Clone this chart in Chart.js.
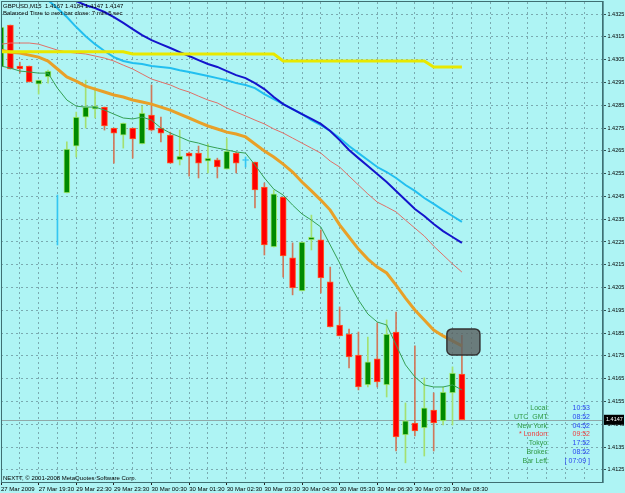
<!DOCTYPE html>
<html>
<head>
<meta charset="utf-8">
<script src="https://cdn.jsdelivr.net/npm/chart.js@4.4.1/dist/chart.umd.min.js"></script>
<style>
html, body { margin: 0; padding: 0; background: #aef4f4; }
canvas { display: block; }
</style>
</head>
<body>
<canvas id="chart" width="625" height="493"></canvas>
<script>
// GBPUSD M15 bars (27-30 Mar 2009), one entry per bar
const opens  = [1.43018, 1.43202, 1.43022, 1.43022, 1.42943, 1.42974, 1.42237, 1.42465, 1.42671, 1.42798,
                1.42833, 1.42842, 1.42750, 1.42719, 1.42750, 1.42680, 1.42807, 1.42750, 1.42719, 1.42610,
                1.42640, 1.42640, 1.42605, 1.42610, 1.42570, 1.42640, 1.42612, 1.42601, 1.42491, 1.42228,
                1.42447, 1.42180, 1.42035, 1.42259, 1.42259, 1.42075, 1.41886, 1.41846, 1.41754, 1.41623,
                1.41737, 1.41623, 1.41855, 1.41404, 1.41456, 1.41434, 1.41513, 1.41465, 1.41588, 1.4167];
const highs  = [1.43193, 1.43202, 1.43039, 1.43022, 1.42960, 1.43004, 1.42456, 1.42689, 1.42820, 1.42960,
                1.42930, 1.42842, 1.42750, 1.42772, 1.42750, 1.42846, 1.42939, 1.42798, 1.42732, 1.42741,
                1.42645, 1.42671, 1.42680, 1.42618, 1.42706, 1.42645, 1.42623, 1.42601, 1.42509, 1.42478,
                1.42447, 1.42246, 1.42250, 1.42368, 1.42303, 1.42140, 1.41965, 1.41868, 1.41855, 1.41833,
                1.41895, 1.41908, 1.41943, 1.41544, 1.41794, 1.41654, 1.41588, 1.41614, 1.41702, 1.4184];
const lows   = [1.43018, 1.43009, 1.42991, 1.42952, 1.42899, 1.42947, 1.42237, 1.42465, 1.42623, 1.42750,
                1.42794, 1.42741, 1.42596, 1.42662, 1.42618, 1.42680, 1.42737, 1.42689, 1.42596, 1.42588,
                1.42539, 1.42531, 1.42553, 1.42531, 1.42570, 1.42553, 1.42579, 1.42399, 1.42193, 1.42228,
                1.42096, 1.42018, 1.42035, 1.42215, 1.42026, 1.41877, 1.41838, 1.41697, 1.41601, 1.41614,
                1.41614, 1.41570, 1.41333, 1.41281, 1.41399, 1.41311, 1.41333, 1.41447, 1.41447, 1.4147];
const closes = [1.43193, 1.43009, 1.43009, 1.42952, 1.42960, 1.43000, 1.42237, 1.42658, 1.42798, 1.42842,
                1.42846, 1.42759, 1.42728, 1.42772, 1.42702, 1.42816, 1.42741, 1.42728, 1.42596, 1.42627,
                1.42627, 1.42596, 1.42618, 1.42579, 1.42649, 1.42596, 1.42608, 1.42478, 1.42237, 1.42461,
                1.42189, 1.42048, 1.42250, 1.42272, 1.42092, 1.41877, 1.41838, 1.41746, 1.41614, 1.41724,
                1.41636, 1.41846, 1.41395, 1.41465, 1.41421, 1.41522, 1.41456, 1.41592, 1.41675, 1.4147];

// indicator lines
const maDarkBlue = [null, null, null, null, null, null, 1.43342, 1.43324, 1.43307, 1.43289,
                    1.43276, 1.43259, 1.43237, 1.43211, 1.43184, 1.43158, 1.43136, 1.43118, 1.43101, 1.43083,
                    1.43066, 1.43048, 1.43031, 1.43018, 1.43000, 1.42982, 1.42969, 1.42947, 1.42921, 1.42886,
                    1.42855, 1.42833, 1.42811, 1.42790, 1.42768, 1.42737, 1.42697, 1.42654, 1.42618, 1.42583,
                    1.42548, 1.42513, 1.42474, 1.42434, 1.42395, 1.42364, 1.42329, 1.42298, 1.42272, 1.42246];
const maLightBlue = [null, null, null, null, 1.43351, 1.43311, 1.43276, 1.43237, 1.43193, 1.43153,
                     1.43118, 1.43088, 1.43061, 1.43044, 1.43035, 1.43031, 1.43022, 1.43018, 1.43013, 1.43004,
                     1.42996, 1.42987, 1.42978, 1.42969, 1.42960, 1.42947, 1.42939, 1.42925, 1.42899, 1.42877,
                     1.42855, 1.42833, 1.42811, 1.42785, 1.42763, 1.42737, 1.42706, 1.42671, 1.42640, 1.42610,
                     1.42579, 1.42557, 1.42531, 1.42500, 1.42474, 1.42443, 1.42417, 1.42390, 1.42364, 1.42338];
const maSalmon = [1.43118, 1.43123, 1.43123, 1.43123, 1.43118, 1.43105, 1.43092, 1.43083, 1.43079, 1.43075,
                  1.43066, 1.43057, 1.43044, 1.43026, 1.43009, 1.42987, 1.42965, 1.42952, 1.42939, 1.42921,
                  1.42908, 1.42890, 1.42873, 1.42860, 1.42838, 1.42820, 1.42803, 1.42785, 1.42768, 1.42746,
                  1.42728, 1.42706, 1.42684, 1.42662, 1.42640, 1.42605, 1.42579, 1.42539, 1.42500, 1.42461,
                  1.42425, 1.42404, 1.42382, 1.42346, 1.42311, 1.42276, 1.42232, 1.42193, 1.42154, 1.42118];
const maOrange = [1.43092, 1.43083, 1.43079, 1.43070, 1.43061, 1.43044, 1.43009, 1.42974, 1.42956, 1.42934,
                  1.42921, 1.42908, 1.42895, 1.42886, 1.42873, 1.42864, 1.42855, 1.42842, 1.42829, 1.42811,
                  1.42794, 1.42776, 1.42759, 1.42746, 1.42732, 1.42724, 1.42711, 1.42680, 1.42649, 1.42623,
                  1.42592, 1.42557, 1.42513, 1.42474, 1.42434, 1.42390, 1.42325, 1.42272, 1.42219, 1.42175,
                  1.42140, 1.42114, 1.42061, 1.42004, 1.41952, 1.41908, 1.41864, 1.41838, 1.41816, 1.41794];
const maGreen = [1.43022, 1.43013, 1.43000, 1.42996, 1.42991, 1.42991, 1.42925, 1.42873, 1.42846, 1.42842,
                 1.42842, 1.42829, 1.42811, 1.42794, 1.42790, 1.42798, 1.42785, 1.42750, 1.42728, 1.42711,
                 1.42693, 1.42684, 1.42671, 1.42662, 1.42654, 1.42645, 1.42640, 1.42588, 1.42531, 1.42482,
                 1.42456, 1.42412, 1.42373, 1.42346, 1.42316, 1.42237, 1.42158, 1.42070, 1.41996, 1.41934,
                 1.41899, 1.41886, 1.41798, 1.41711, 1.41658, 1.41623, 1.41614, 1.41614, 1.41623, 1.41601];
const dailyLevel = [1.43085, 1.43085, 1.43085, 1.43085, 1.43085, 1.43085, 1.43085, 1.43085, 1.43085, 1.43085,
                    1.43085, 1.43085, 1.43085, 1.43085, 1.43075, 1.43075, 1.43075, 1.43075, 1.43075, 1.43075,
                    1.43075, 1.43075, 1.43075, 1.43075, 1.43075, 1.43075, 1.43075, 1.43075, 1.43075, 1.43075,
                    1.43044, 1.43044, 1.43044, 1.43044, 1.43044, 1.43044, 1.43044, 1.43044, 1.43044, 1.43044,
                    1.43044, 1.43044, 1.43044, 1.43044, 1.43044, 1.43044, 1.43018, 1.43018, 1.43018, 1.43018];

// axis labels (time label every 4th bar)
const timeLabels = ['27 Mar 2009', '27 Mar 19:30', '29 Mar 22:30', '29 Mar 23:30', '30 Mar 00:30',
                    '30 Mar 01:30', '30 Mar 02:30', '30 Mar 03:30', '30 Mar 04:30', '30 Mar 05:30',
                    '30 Mar 06:30', '30 Mar 07:30', '30 Mar 08:30'];
const priceTicks = [1.4125, 1.4135, 1.4145, 1.4155, 1.4165, 1.4175, 1.4185, 1.4195, 1.4205, 1.4215, 1.4225,
                    1.4235, 1.4245, 1.4255, 1.4265, 1.4275, 1.4285, 1.4295, 1.4305, 1.4315, 1.4325];

// clock panel
const clockNames = ['Local:', 'UTC  GMT:', 'New York:', '* London:', 'Tokyo:', 'Broker:', 'Bar Left:'];
const clockTimes = ['10:53', '08:52', '04:52', '09:52', '17:52', '08:52', '[ 07:09 ]'];

const FONT = "'Liberation Sans', Arial, sans-serif";
const last = closes.length - 1;

const isDoji = i => Math.abs(opens[i] - closes[i]) < 0.00005;
const bodyFill = opens.map((o, i) => isDoji(i) ? '#33c6f2' : (closes[i] > o ? '#008a00' : '#ff0000'));
const bodyEdge = opens.map((o, i) => isDoji(i) ? '#33c6f2' : (closes[i] > o ? '#a8ec7c' : '#ff5a2a'));
const wickColor = opens.map((o, i) => isDoji(i) ? '#33c6f2' : (closes[i] > o ? '#a4e070' : '#d0785a'));

const toPoints = arr => arr.map((v, i) => ({x: i, y: v}));
const lineSet = (data, color, width, order) => ({
    type: 'line', data: toPoints(data), borderColor: color, borderWidth: width,
    pointRadius: 0, tension: 0, fill: false, order: order
});

const gridColor = 'rgba(80,110,120,0.55)';

const mt4Extras = {
    id: 'mt4Extras',
    beforeDraw(chart) {
        const ctx = chart.ctx;
        ctx.save();
        ctx.fillStyle = '#aef4f4';
        ctx.fillRect(0, 0, chart.width, chart.height);
        ctx.restore();
    },
    beforeDatasetsDraw(chart) {
        // bid line
        const {ctx, chartArea: a, scales: {y}} = chart;
        const py = Math.round(y.getPixelForValue(closes[last])) + 0.5;
        ctx.save();
        ctx.strokeStyle = '#8fa8a8';
        ctx.lineWidth = 1;
        ctx.beginPath();
        ctx.moveTo(a.left, py);
        ctx.lineTo(a.right, py);
        ctx.stroke();
        ctx.restore();
    },
    afterDatasetsDraw(chart) {
        const {ctx, scales: {x, y}} = chart;
        // rounded marker at end of the orange average
        const cx = x.getPixelForValue(last) + 1.5;
        const cy = y.getPixelForValue(maOrange[last]) - 4;
        ctx.save();
        ctx.fillStyle = 'rgba(92,98,98,0.82)';
        ctx.strokeStyle = '#333';
        ctx.lineWidth = 1.5;
        ctx.beginPath();
        ctx.roundRect(cx - 16.5, cy - 13, 33, 26, 5);
        ctx.fill();
        ctx.stroke();
        ctx.restore();
    },
    afterDraw(chart) {
        const {ctx, chartArea: a, scales: {y}} = chart;
        ctx.save();
        // frame
        ctx.strokeStyle = '#3f6f72';
        ctx.lineWidth = 1;
        ctx.strokeRect(a.left + 0.5, a.top - 0.5, a.right - a.left - 1, a.bottom - a.top + 1);

        // header
        ctx.fillStyle = '#000';
        ctx.textBaseline = 'top';
        ctx.textAlign = 'left';
        ctx.font = '6px ' + FONT;
        const ohlc = [opens[last], highs[last], lows[last], closes[last]].map(v => v.toFixed(4)).join(' ');
        ctx.fillText('GBPUSD,M15  ' + ohlc, 3, 3);
        ctx.fillText('Balanced Time to next bar close: 7 min 5 sec', 3, 10);
        ctx.fillText('NEXTT, \u00a9 2001-2008 MetaQuotes Software Corp.', 3, 475);

        // clock panel
        ctx.font = '7px ' + FONT;
        ctx.textBaseline = 'middle';
        clockNames.forEach((name, i) => {
            const ly = 408 + i * 8.8;
            const red = name.indexOf('London') >= 0;
            ctx.textAlign = 'right';
            ctx.fillStyle = red ? '#f04040' : '#2f9a44';
            ctx.fillText(name, 549, ly);
            ctx.fillStyle = red ? '#f04040' : '#2a46f0';
            ctx.fillText(clockTimes[i], 590, ly);
        });

        // current price tag on the axis
        const py = y.getPixelForValue(closes[last]);
        ctx.fillStyle = '#000';
        ctx.fillRect(604, py - 5, 20, 10);
        ctx.fillStyle = '#fff';
        ctx.textAlign = 'left';
        ctx.font = '5.5px ' + FONT;
        ctx.fillText(closes[last].toFixed(4), 606, py);
        ctx.restore();
    }
};

new Chart(document.getElementById('chart'), {
    type: 'bar',
    data: {
        datasets: [
            lineSet(dailyLevel, '#e8e800', 3, 1),
            lineSet(maDarkBlue, '#1414cc', 2, 2),
            lineSet(maLightBlue, '#22bff0', 2, 3),
            lineSet(maOrange, '#e8a028', 3, 4),
            lineSet(maSalmon, '#e07068', 1, 5),
            lineSet(maGreen, '#35a055', 1, 6),
            {
                type: 'bar',
                data: opens.map((o, i) => ({x: i, y: [o, closes[i]]})),
                backgroundColor: bodyFill,
                borderColor: bodyEdge,
                borderWidth: 1,
                borderSkipped: false,
                barThickness: 6,
                grouped: false,
                order: 9
            },
            {
                type: 'bar',
                data: opens.map((o, i) => ({x: i, y: [lows[i], highs[i]]})),
                backgroundColor: wickColor,
                borderWidth: 0,
                barThickness: 1,
                grouped: false,
                order: 10
            }
        ]
    },
    options: {
        responsive: false,
        animation: false,
        layout: {padding: {left: 1, top: 2, right: 0, bottom: 0}},
        plugins: {legend: {display: false}, tooltip: {enabled: false}},
        scales: {
            x: {
                type: 'linear',
                min: 0,
                max: 64,
                offset: false,
                afterBuildTicks(s) {
                    const t = [];
                    for (let v = 0; v <= 64; v += 2) t.push({value: v});
                    s.ticks = t;
                },
                afterFit(s) {
                    s.height = 11;
                    s.paddingLeft = 0;
                    s.paddingRight = 0;
                },
                ticks: {
                    autoSkip: false,
                    maxRotation: 0,
                    align: 'start',
                    padding: 1,
                    color: '#000',
                    font: {size: 6, family: FONT},
                    callback: v => (v % 4 === 0 && timeLabels[v / 4]) ? timeLabels[v / 4] : ''
                },
                grid: {
                    offset: false,
                    color: c => c.tick && c.tick.value > 0 ? gridColor : 'rgba(0,0,0,0)',
                    tickLength: 3,
                    tickColor: c => c.tick && c.tick.value % 4 === 0 && timeLabels[c.tick.value / 4] ? '#222' : 'rgba(0,0,0,0)'
                },
                border: {color: '#2f4f50', width: 1, dash: [2, 3]}
            },
            y: {
                type: 'linear',
                position: 'right',
                min: 1.41197,
                max: 1.43303,
                afterBuildTicks(s) {
                    s.ticks = priceTicks.map(v => ({value: v}));
                },
                afterFit(s) {
                    s.width = 22;
                    s.paddingTop = 0;
                    s.paddingBottom = 0;
                },
                ticks: {
                    padding: 1.5,
                    color: '#000',
                    font: {size: 5.5, family: FONT},
                    callback: v => v.toFixed(4)
                },
                grid: {color: gridColor, tickLength: 3, tickColor: '#2f4f50'},
                border: {color: '#5f9a9e', width: 2, dash: [2, 3]}
            }
        }
    },
    plugins: [mt4Extras]
});
</script>
</body>
</html>
